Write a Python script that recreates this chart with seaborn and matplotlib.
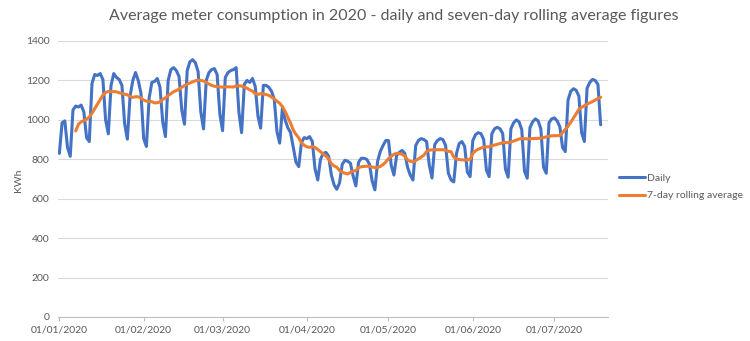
import numpy as np
import pandas as pd
import matplotlib
matplotlib.use("Agg")
import matplotlib.pyplot as plt
import matplotlib.dates as mdates
import seaborn as sns

# ---- data (daily average meter consumption, kWh) ----
start_date = "2020-01-01"
jan = [830, 985, 995, 860, 815,
       1050, 1070, 1065, 1075, 1040, 910, 890,
       1185, 1230, 1225, 1235, 1205, 1000, 929,
       1175, 1235, 1215, 1205, 1175, 980, 902,
       1120, 1200, 1240, 1200, 1135]
feb = [905, 865,
       1110, 1190, 1195, 1210, 1165, 990, 915,
       1200, 1255, 1265, 1250, 1220, 1050, 978,
       1250, 1295, 1305, 1290, 1245, 1040, 954,
       1200, 1240, 1255, 1260, 1230, 1030]
mar = [945,
       1215, 1240, 1250, 1255, 1265, 1040, 935,
       1180, 1200, 1190, 1210, 1170, 1020, 958,
       1175, 1175, 1165, 1145, 1105, 940, 882,
       1060, 1000, 960, 935, 860, 785, 763,
       885, 910]
apr = [905, 915, 890, 750, 695,
       800, 830, 835, 815, 720, 670, 648,
       680, 775, 795, 790, 780, 715, 665,
       785, 805, 805, 800, 775, 690, 645,
       790, 840, 870, 895]
may = [895, 770, 720,
       820, 835, 845, 830, 760, 720, 695,
       870, 895, 905, 900, 890, 770, 705,
       875, 895, 905, 900, 870, 730, 695,
       685, 830, 880, 890, 865, 735, 712]
jun = [895, 925, 935, 930, 900, 745, 712,
       930, 955, 962, 955, 930, 750, 709,
       955, 985, 1000, 990, 950, 740, 704,
       960, 990, 1005, 995, 955, 760, 729,
       985, 1005]
jul = [1010, 995, 965, 860, 839,
       1100, 1145, 1158, 1150, 1120, 935, 890,
       1160, 1190, 1205, 1200, 1180, 975]

series_names = ["Daily", "7-day rolling average"]
y_ticks = [0, 200, 400, 600, 800, 1000, 1200, 1400]
title = "Average meter consumption in 2020 - daily and seven-day rolling average figures"
y_label = "KWh"

daily = jan + feb + mar + apr + may + jun + jul
dates = pd.date_range(start_date, periods=len(daily), freq="D")
df = pd.DataFrame({"date": dates, series_names[0]: daily})
df[series_names[1]] = df[series_names[0]].rolling(7).mean()

# ---- style ----
sns.set_theme(style="white")
plt.rcParams["font.family"] = ["Lato", "DejaVu Sans"]
text_col = "#595959"
blue = "#4472C4"
orange = "#ED7D31"

W, H = 750, 341
fig = plt.figure(figsize=(W / 100, H / 100), dpi=100)
ax = fig.add_axes([58 / W, 1 - 317 / H, 550 / W, 276 / H])

sns.lineplot(data=df, x="date", y=series_names[0], color=blue, lw=2.2,
             label=series_names[0], ax=ax)
sns.lineplot(data=df, x="date", y=series_names[1], color=orange, lw=2.2,
             label=series_names[1], ax=ax)

t0 = pd.Timestamp(start_date)
ax.set_xlim(t0 - pd.Timedelta(hours=12), t0 + pd.Timedelta(days=201.7))
ax.set_ylim(0, 1400)
ax.set_yticks(y_ticks)
ax.xaxis.set_major_locator(mdates.MonthLocator())
ax.xaxis.set_major_formatter(mdates.DateFormatter("%d/%m/%Y"))

ax.grid(axis="y", color="#d9d9d9", lw=0.8)
ax.grid(axis="x", visible=False)
for s in ["top", "right", "left"]:
    ax.spines[s].set_visible(False)
ax.spines["bottom"].set_color("#bfbfbf")
ax.spines["bottom"].set_linewidth(0.8)
ax.tick_params(axis="y", length=0, pad=6, labelsize=7.5, labelcolor=text_col)
ax.tick_params(axis="x", length=3, width=0.8, color="#bfbfbf", pad=3,
               labelsize=7.5, labelcolor=text_col, direction="out", bottom=True)
ax.set_xlabel("")
ax.set_ylabel("")

fig.text(18 / W, 1 - 180 / H, y_label, rotation=90, fontsize=7.5,
         color=text_col, ha="center", va="center")
fig.text(394 / W, 1 - 16 / H, title, fontsize=11.5, color=text_col,
         ha="center", va="center")

leg = ax.legend(loc="center left", bbox_to_anchor=(619 / W, 1 - 187 / H),
                bbox_transform=fig.transFigure, frameon=False,
                borderaxespad=0, borderpad=0, handlelength=2.5,
                handletextpad=0.2, labelspacing=0.8, fontsize=7.5)
for t in leg.get_texts():
    t.set_color(text_col)

fig.savefig("out.png", dpi=100)
